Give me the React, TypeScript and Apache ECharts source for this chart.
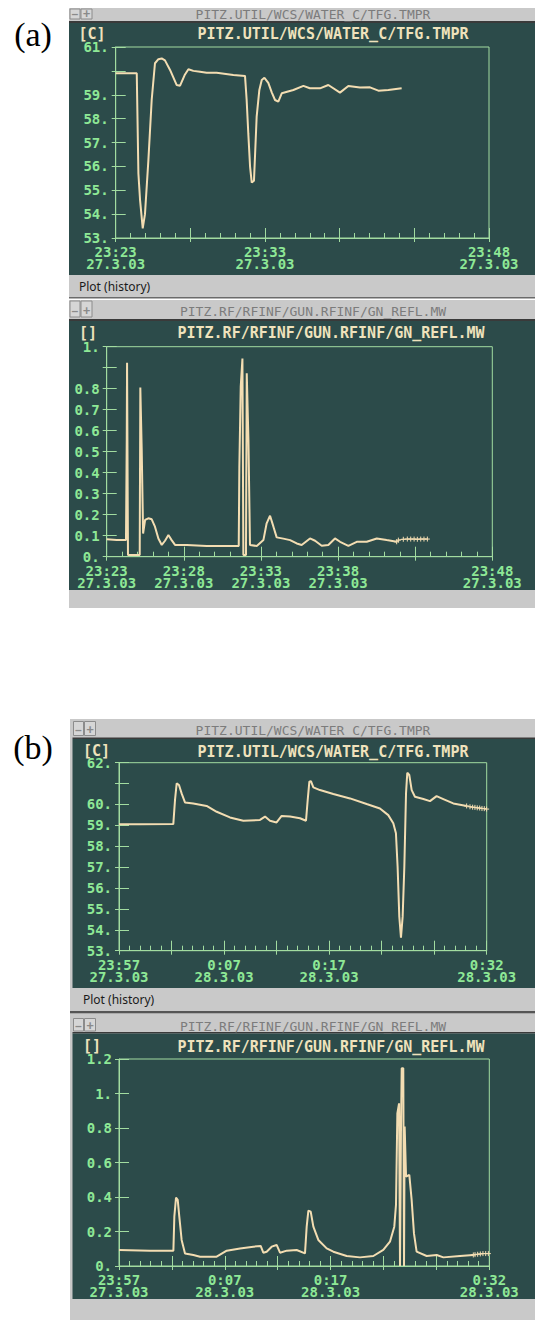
import React, { useEffect, useRef } from "react";
import * as echarts from "echarts";

// ---------- Panel (a), upper: PITZ.UTIL/WCS/WATER_C/TFG.TMPR (minutes after 23:23, 27.3.03) ----------
const aTempTime = [0, 1.41, 1.52, 1.63, 1.81, 1.96, 2.19, 2.41, 2.63, 2.86, 3.08, 3.3, 3.64, 4.08, 4.31, 4.64, 4.87, 5.2, 5.65, 6.09, 6.76, 7.88, 8.66, 8.77, 8.88, 9.0, 9.11, 9.26, 9.44, 9.62, 9.78, 9.96, 10.22, 10.45, 10.67, 10.89, 11.12, 11.9, 12.57, 13.0, 13.68, 14.24, 15.02, 15.58, 16.36, 17.03, 17.59, 18.26, 19.15];
const aTempValue = [59.9, 59.9, 55.7, 54.6, 53.4, 54.0, 56.27, 58.78, 60.32, 60.49, 60.52, 60.44, 60.04, 59.41, 59.38, 59.85, 60.07, 60.0, 59.96, 59.92, 59.92, 59.83, 59.79, 58.78, 57.38, 55.98, 55.32, 55.4, 58.08, 59.2, 59.62, 59.71, 59.5, 59.1, 58.78, 58.71, 59.06, 59.2, 59.37, 59.27, 59.27, 59.41, 59.09, 59.37, 59.3, 59.31, 59.17, 59.2, 59.27];

// ---------- Panel (a), lower: PITZ.RF/RFINF/GUN.RFINF/GN_REFL.MW ----------
const aReflTime = [0, 0.65, 1.25, 1.3, 1.32, 1.38, 1.73, 2.14, 2.18, 2.27, 2.36, 2.49, 2.7, 2.92, 3.13, 3.35, 3.57, 3.78, 4.0, 4.21, 4.43, 5.19, 6.48, 7.78, 8.56, 8.6, 8.69, 8.8, 8.86, 9.03, 9.08, 9.19, 9.29, 9.73, 10.16, 10.37, 10.59, 10.81, 11.02, 11.45, 11.89, 12.32, 12.64, 13.18, 13.51, 13.94, 14.37, 14.8, 15.13, 15.67, 16.21, 16.86, 17.51, 18.15, 18.8];
const aReflValue = [0.083, 0.079, 0.079, 0.56, 0.924, 0.008, 0.008, 0.008, 0.806, 0.51, 0.11, 0.175, 0.183, 0.178, 0.143, 0.087, 0.056, 0.076, 0.103, 0.079, 0.056, 0.056, 0.051, 0.051, 0.051, 0.43, 0.81, 0.944, 0.008, 0.008, 0.873, 0.556, 0.056, 0.051, 0.079, 0.159, 0.195, 0.143, 0.092, 0.086, 0.079, 0.063, 0.056, 0.087, 0.076, 0.052, 0.056, 0.087, 0.071, 0.052, 0.071, 0.071, 0.087, 0.079, 0.071];
const aReflMarkTime = [18.8, 18.91, 19.23, 19.49, 19.71, 19.93, 20.14, 20.36, 20.57, 20.79];
const aReflMarkValue = [0.071, 0.079, 0.083, 0.084, 0.084, 0.084, 0.083, 0.084, 0.084, 0.084];

// ---------- Panel (b), upper: TFG.TMPR (minutes after 23:57, 27.3.03) ----------
const bTempTime = [0, 2.0, 5.17, 5.33, 5.49, 5.71, 5.96, 6.28, 7.07, 8.34, 9.3, 10.56, 11.83, 13.42, 13.9, 14.37, 15.0, 15.48, 16.28, 17.23, 17.8, 17.96, 18.12, 18.27, 18.5, 19.13, 20.4, 21.99, 23.57, 24.84, 25.63, 26.11, 26.36, 26.52, 26.68, 26.84, 27.0, 27.16, 27.32, 27.44, 27.63, 27.86, 28.17, 28.97, 29.6, 30.23, 30.87, 31.82, 33.09];
const bTempValue = [59.05, 59.05, 59.06, 60.21, 61.01, 60.93, 60.53, 60.1, 60.05, 59.93, 59.65, 59.38, 59.22, 59.26, 59.42, 59.22, 59.14, 59.45, 59.42, 59.34, 59.22, 60.21, 61.09, 61.12, 60.82, 60.69, 60.5, 60.29, 60.02, 59.81, 59.49, 59.1, 58.62, 57.02, 54.63, 53.62, 54.63, 57.02, 60.53, 61.52, 61.41, 60.69, 60.37, 60.26, 60.16, 60.4, 60.26, 60.05, 59.93];
const bTempMarkTime = [33.09, 33.41, 33.66, 33.88, 34.1, 34.33, 34.55, 34.77, 34.99];
const bTempMarkValue = [59.93, 59.89, 59.87, 59.86, 59.84, 59.83, 59.81, 59.8, 59.78];

// ---------- Panel (b), lower: GN_REFL.MW ----------
const bReflTime = [0, 2.93, 5.14, 5.23, 5.39, 5.55, 5.7, 5.92, 6.24, 7.03, 7.66, 9.23, 10.18, 11.44, 12.7, 13.39, 13.64, 13.96, 14.43, 14.9, 15.22, 15.85, 16.79, 17.58, 17.74, 17.9, 18.12, 18.37, 18.84, 19.63, 20.26, 21.52, 22.78, 24.04, 24.98, 25.61, 26.02, 26.18, 26.31, 26.47, 26.56, 26.65, 26.72, 26.87, 26.94, 27.0, 27.13, 27.44, 27.66, 27.88, 28.13, 29.08, 30.03, 30.66, 32.23, 33.49];
const bReflValue = [0.093, 0.089, 0.089, 0.286, 0.396, 0.383, 0.286, 0.151, 0.073, 0.064, 0.054, 0.054, 0.089, 0.102, 0.112, 0.116, 0.077, 0.083, 0.112, 0.122, 0.077, 0.089, 0.093, 0.073, 0.228, 0.321, 0.315, 0.228, 0.151, 0.102, 0.083, 0.058, 0.05, 0.058, 0.093, 0.141, 0.228, 0.354, 0.885, 0.943, 0.0, 0.77, 1.146, 1.146, 0.0, 0.808, 0.518, 0.528, 0.383, 0.189, 0.083, 0.058, 0.064, 0.05, 0.058, 0.064];
const bReflMarkTime = [33.49, 33.65, 33.9, 34.15, 34.4, 34.66, 34.91];
const bReflMarkValue = [0.064, 0.066, 0.068, 0.07, 0.072, 0.072, 0.072];

// ---------- Axis ranges and tick labels ----------
const aTempYRange = [53, 61];
const aReflYRange = [0, 1];
const bTempYRange = [53, 62];
const bReflYRange = [0, 1.2];
const aXRange = [0, 25];
const bXRange = [0, 35];

const aTempYLabels = [53, 54, 55, 56, 57, 58, 59, 61];
const aReflYLabels = [0, 0.1, 0.2, 0.3, 0.4, 0.5, 0.6, 0.7, 0.8, 1];
const bTempYLabels = [53, 54, 55, 56, 57, 58, 59, 60, 62];
const bReflYLabels = [0, 0.2, 0.4, 0.6, 0.8, 1, 1.2];

const aTempXTicks = [0, 10, 25];
const aTempXTexts = ["23:23\n27.3.03", "23:33\n27.3.03", "23:48\n27.3.03"];
const aReflXTicks = [0, 5, 10, 15, 25];
const aReflXTexts = ["23:23\n27.3.03", "23:28\n27.3.03", "23:33\n27.3.03", "23:38\n27.3.03", "23:48\n27.3.03"];
const bXTicks = [0, 10, 20, 35];
const bXTexts = ["23:57\n27.3.03", "0:07\n28.3.03", "0:17\n28.3.03", "0:32\n28.3.03"];

const tempChannel = "PITZ.UTIL/WCS/WATER_C/TFG.TMPR";
const reflChannel = "PITZ.RF/RFINF/GUN.RFINF/GN_REFL.MW";

// ---------- Style ----------
const BG = "#2c4b4a";
const GREEN = "#8ee896";
const FRAME = "#a2dca0";
const LINE = "#f3ddb2";
const TITLE = "#efe2bc";
const GRAY = "#c9c9c9";
const MONO = "'DejaVu Sans Mono', monospace";

const zip = (t: number[], v: number[]) => t.map((x, i) => [x, v[i]]);
const near = (arr: number[], v: number) => arr.some((a) => Math.abs(a - v) < 1e-6);
const yFmt = (labels: number[]) => (v: number) => {
  if (!near(labels, v)) return "";
  const r = Math.round(v * 10) / 10;
  return Number.isInteger(r) ? `${r}.` : r.toFixed(1);
};
const xFmt = (ticks: number[], texts: string[]) => (v: number) => {
  const k = ticks.findIndex((t) => Math.abs(t - v) < 1e-6);
  return k >= 0 ? texts[k] : "";
};

export default function App() {
  const ref = useRef<HTMLDivElement>(null);
  useEffect(() => {
    if (!ref.current) return;
    const chart = echarts.init(ref.current, undefined, { renderer: "svg" });

    const grids = [
      { left: 115.7, top: 47, width: 373.3, height: 191 },
      { left: 106.7, top: 346.7, width: 385.6, height: 210 },
      { left: 119, top: 762.7, width: 367.7, height: 188 },
      { left: 119, top: 1059, width: 370.3, height: 207 },
    ];
    const yConf = [
      { r: aTempYRange, iv: 1, lab: aTempYLabels },
      { r: aReflYRange, iv: 0.1, lab: aReflYLabels },
      { r: bTempYRange, iv: 1, lab: bTempYLabels },
      { r: bReflYRange, iv: 0.2, lab: bReflYLabels },
    ];
    const xConf = [
      { r: aXRange, ticks: aTempXTicks, texts: aTempXTexts },
      { r: aXRange, ticks: aReflXTicks, texts: aReflXTexts },
      { r: bXRange, ticks: bXTicks, texts: bXTexts },
      { r: bXRange, ticks: bXTicks, texts: bXTexts },
    ];

    const labelStyle = {
      color: GREEN,
      fontFamily: MONO,
      fontWeight: "bold" as const,
      fontSize: 14,
    };

    const xAxis: any[] = [];
    const yAxis: any[] = [];
    xConf.forEach((c, i) => {
      xAxis.push({
        type: "value",
        gridIndex: i,
        position: "bottom",
        min: c.r[0],
        max: c.r[1],
        interval: 5,
        axisLine: { show: true, lineStyle: { color: FRAME, width: 1 } },
        axisTick: { show: true, inside: true, length: 10, lineStyle: { color: FRAME } },
        minorTick: { show: true, splitNumber: 5, length: 5, lineStyle: { color: FRAME } },
        splitLine: { show: false },
        minorSplitLine: { show: false },
        axisLabel: {
          ...labelStyle,
          margin: 8,
          lineHeight: 12,
          formatter: xFmt(c.ticks, c.texts),
        },
      });
    });
    xConf.forEach((c, i) => {
      xAxis.push({
        type: "value",
        gridIndex: i,
        position: "bottom",
        min: c.r[0],
        max: c.r[1],
        interval: 5,
        axisLine: { show: false },
        axisTick: { show: true, inside: false, length: 4, lineStyle: { color: FRAME } },
        splitLine: { show: false },
        axisLabel: { show: false },
      });
    });
    yConf.forEach((c, i) => {
      yAxis.push({
        type: "value",
        gridIndex: i,
        position: "left",
        min: c.r[0],
        max: c.r[1],
        interval: c.iv,
        axisLine: { show: true, lineStyle: { color: FRAME, width: 1 } },
        axisTick: { show: true, inside: true, length: 10, lineStyle: { color: FRAME } },
        splitLine: { show: false },
        axisLabel: { ...labelStyle, margin: 7, lineHeight: 11, formatter: yFmt(c.lab) },
      });
    });
    yConf.forEach((c, i) => {
      yAxis.push({
        type: "value",
        gridIndex: i,
        position: "left",
        min: c.r[0],
        max: c.r[1],
        interval: c.iv,
        axisLine: { show: false },
        axisTick: { show: true, inside: false, length: 4, lineStyle: { color: FRAME } },
        splitLine: { show: false },
        axisLabel: { show: false },
      });
    });

    const lineSeries = (i: number, data: number[][]) => ({
      type: "line",
      xAxisIndex: i,
      yAxisIndex: i,
      data,
      symbol: "none",
      showSymbol: false,
      lineStyle: { color: LINE, width: 2 },
      z: 3,
    });
    const markSeries = (i: number, data: number[][]) => ({
      type: "line",
      xAxisIndex: i,
      yAxisIndex: i,
      data,
      symbol: "path://M0,5L10,5M5,0L5,10",
      symbolSize: 5,
      showSymbol: true,
      itemStyle: { color: "rgba(0,0,0,0)", borderColor: LINE, borderWidth: 1 },
      lineStyle: { color: LINE, width: 1 },
      z: 3,
    });

    const series = [
      lineSeries(0, zip(aTempTime, aTempValue)),
      lineSeries(1, zip(aReflTime, aReflValue)),
      markSeries(1, zip(aReflMarkTime, aReflMarkValue)),
      lineSeries(2, zip(bTempTime, bTempValue)),
      markSeries(2, zip(bTempMarkTime, bTempMarkValue)),
      lineSeries(3, zip(bReflTime, bReflValue)),
      markSeries(3, zip(bReflMarkTime, bReflMarkValue)),
    ];

    const g: any[] = [];
    const rect = (x: number, y: number, w: number, h: number, fill: string, z = -5, stroke?: string) =>
      g.push({ type: "rect", z, shape: { x, y, width: w, height: h }, style: { fill, stroke, lineWidth: stroke ? 1 : 0 } });
    const text = (t: string, x: number, y: number, font: string, fill: string, align = "center", lh = 12) =>
      g.push({ type: "text", z: 10, style: { text: t, x, y, font, fill, lineHeight: lh, textAlign: align, textVerticalAlign: "middle" } });

    const titleBar = (x0: number, y0: number, h: number, label: string, ty: number) => {
      rect(x0, y0, 535 - x0, h, GRAY);
      rect(x0 + 1, y0 + 1, 10, h - 3, "#d6d6d6", -4, "#8c8c8c");
      rect(x0 + 12, y0 + 1, 11, h - 3, "#d6d6d6", -4, "#8c8c8c");
      text("−", x0 + 6, ty, "bold 11px " + MONO, "#8a8a8a", "center", 10);
      text("+", x0 + 17.5, ty, "bold 12px " + MONO, "#8a8a8a", "center", 10);
      text(label, 313, ty, "13px " + MONO, "#7c7c7c", "center", 11);
    };

    // (a) upper window
    titleBar(69, 8, 13, tempChannel, 14);
    rect(69, 21, 466, 2, "#3a3a3a");
    rect(69, 23, 466, 252, BG);
    rect(69, 275, 466, 22, GRAY);
    rect(69, 297, 466, 1.5, "#6a6a6a");
    text("Plot (history)", 79, 286, "12px 'Noto Sans', sans-serif", "#1a1a1a", "left", 14);
    // (a) lower window
    titleBar(69, 300, 19, reflChannel, 311);
    rect(69, 319, 466, 2, "#3a3a3a");
    rect(69, 321, 466, 269, BG);
    rect(69, 590, 466, 18, GRAY);
    // (b) upper window
    rect(70, 719, 465, 292, GRAY);
    titleBar(72.5, 720.5, 17, tempChannel, 730);
    rect(72.5, 737.5, 462.5, 1.5, "#3a3a3a");
    rect(72.5, 739, 462.5, 249, BG);
    text("Plot (history)", 83, 999, "12px 'Noto Sans', sans-serif", "#1a1a1a", "left", 14);
    rect(70, 1011, 465, 2.5, "#555555");
    // (b) lower window
    rect(70, 1014, 465, 306, GRAY);
    titleBar(72.5, 1017.5, 15.5, reflChannel, 1026);
    rect(72.5, 1032, 462.5, 1.5, "#3a3a3a");
    rect(72.5, 1033.5, 462.5, 265.5, BG);

    // inner titles and units
    const tf = "bold 15px " + MONO;
    text(tempChannel, 333, 34, tf, TITLE, "center", 11);
    text("[C]", 92, 34, tf, TITLE, "center", 11);
    text(reflChannel, 331, 333, tf, TITLE, "center", 11);
    text("[]", 88, 333, tf, TITLE, "center", 11);
    text(tempChannel, 333, 752, tf, TITLE, "center", 11);
    text("[C]", 96.5, 751, tf, TITLE, "center", 11);
    text(reflChannel, 331, 1047, tf, TITLE, "center", 11);
    text("[]", 92, 1046, tf, TITLE, "center", 11);

    // panel letters
    text("(a)", 33, 34, "34px 'Liberation Serif', serif", "#000000", "center", 36);
    text("(b)", 33, 747, "34px 'Liberation Serif', serif", "#000000", "center", 36);

    chart.setOption({
      animation: false,
      backgroundColor: "#ffffff",
      grid: grids.map((gr) => ({
        ...gr,
        show: true,
        borderColor: FRAME,
        borderWidth: 1,
        backgroundColor: "transparent",
        containLabel: false,
        outerBoundsMode: "none",
      })),
      xAxis,
      yAxis,
      series,
      graphic: g,
    });
    return () => chart.dispose();
  }, []);

  return (
    <div
      ref={ref}
      style={{ position: "absolute", left: 0, top: 0, width: 535, height: 1320 }}
    />
  );
}
